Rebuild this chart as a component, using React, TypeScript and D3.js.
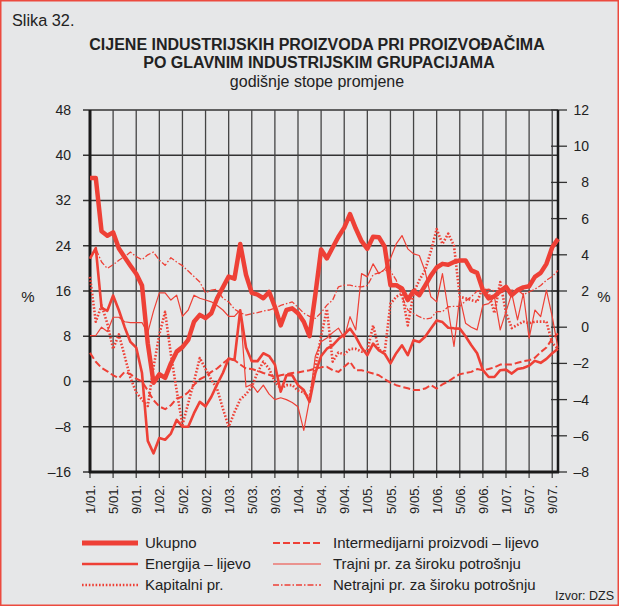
import React from 'react';
import * as d3 from 'd3';

// monthly values, 1/2001 .. 10/2007
const ukupno = [8.25, 8.25, 5.3, 5.05, 5.24, 4.35, 3.87, 3.4, 2.95, 2.3, -0.9, -3.07, -2.6, -2.8, -2.0, -1.35, -1.1, -0.7, 0.3, 0.68, 0.5, 0.77, 1.6, 2.2, 2.8, 2.68, 4.6, 2.9, 1.9, 1.8, 1.6, 1.95, 1.13, 0.1, 0.95, 1.04, 0.77, 0.3, -0.5, 1.8, 4.29, 3.8, 4.4, 5.0, 5.5, 6.25, 5.45, 4.75, 4.33, 5.0, 4.97, 4.45, 2.32, 2.32, 2.14, 1.5, 2.0, 1.77, 2.3, 2.85, 3.3, 3.5, 3.45, 3.6, 3.69, 3.69, 3.14, 3.0, 2.05, 1.59, 1.7, 2.0, 2.23, 1.77, 2.05, 2.2, 2.26, 2.78, 3.0, 3.5, 4.42, 4.88];
const energija = [21.7, 23.6, 13.0, 12.5, 15.2, 12.6, 9.6, 7.0, 6.0, 1.5, -10.5, -12.7, -10.0, -10.3, -9.2, -6.8, -8.0, -8.0, -5.6, -3.6, -4.4, -2.7, -0.5, 1.5, 4.06, 3.8, 12.6, 6.0, 3.6, 3.6, 5.0, 4.5, 3.0, -1.8, 1.1, 1.1, -0.65, -1.5, -3.6, 1.5, 4.5, 5.8, 6.4, 7.5, 8.3, 9.35, 7.9, 6.0, 4.65, 6.7, 5.5, 4.9, 3.2, 5.0, 6.4, 4.65, 7.3, 7.0, 7.9, 9.35, 10.8, 10.5, 9.5, 9.4, 9.35, 8.0, 6.4, 5.0, 2.0, 0.8, 0.8, 2.0, 2.1, 1.4, 2.2, 2.4, 2.8, 3.65, 3.3, 4.0, 5.0, 5.8];
const kapitalni = [2.78, 0.3, 1.2, 0.2, -1.2, -0.4, -1.6, -2.8, -3.6, -4.0, -4.35, -2.2, -0.4, 0.85, -1.5, -3.5, -5.4, -4.2, -3.0, -1.7, -2.3, -2.9, -3.4, -4.5, -5.5, -4.7, -4.0, -3.7, -3.3, -2.5, -1.9, -2.3, -3.0, -3.4, -3.2, -3.2, -3.5, -3.6, -3.9, -2.2, -0.5, 1.0, -1.9, -1.4, -1.5, -1.2, -1.2, -1.35, -1.3, 0.1, -1.24, -1.4, 1.3, 1.68, 1.86, 0.1, 1.9, 2.6, 3.14, 4.2, 5.42, 4.6, 5.17, 4.5, 1.68, 1.6, 1.5, 1.4, 2.2, 1.9, 0.77, 2.5, 0.8, -0.05, 0.13, 0.3, 0.22, 0.3, 0.31, 0.31, -0.88, -1.2];
const intermedijarni = [5.06, 3.5, 2.4, 1.8, 1.1, 0.6, 1.7, 1.3, 0.5, 0.0, -1.6, -3.3, -4.4, -4.9, -4.2, -3.0, -2.7, -1.9, -0.6, 0.4, 0.9, 1.7, 2.3, 3.2, 4.0, 3.8, 3.0, 2.3, 2.2, 1.9, 1.5, 1.2, 0.8, 1.1, 1.3, 1.5, 1.6, 1.8, 2.0, 2.3, 2.5, 2.6, 2.0, 1.7, 2.6, 3.5, 2.0, 2.0, 1.7, 1.4, 1.1, 0.4, -0.2, -0.65, -0.94, -1.2, -1.5, -1.5, -1.24, -0.65, -1.24, -0.5, 0.0, 0.7, 1.3, 1.5, 1.7, 2.2, 2.0, 2.2, 2.5, 3.0, 3.0, 3.0, 3.3, 3.6, 3.76, 4.2, 5.2, 6.0, 7.6, 8.5];
const trajni = [-0.46, -0.46, 0.0, -0.24, 0.55, 0.55, 0.3, 0.25, 0.25, 0.25, -0.3, 0.9, 1.9, 1.9, 1.5, 1.77, 0.6, 0.95, 1.77, 1.6, 1.5, 1.4, 1.2, 0.95, 0.6, 0.6, 0.95, -3.3, -3.16, -3.6, -3.2, -3.7, -4.0, -3.9, -4.0, -4.16, -4.4, -5.7, -4.0, -1.6, -0.8, -0.6, -0.3, -0.05, -0.6, 0.58, -0.15, 2.96, 2.78, 3.5, 2.96, 3.2, 3.8, 4.6, 5.06, 4.33, 4.05, 3.96, 3.1, 1.68, 1.4, 2.96, 0.95, -1.06, 1.68, 0.22, 0.0, -0.15, 1.22, 1.3, 1.68, -0.15, 0.86, 1.86, 0.4, 1.86, -0.6, 0.95, 0.58, 2.05, 0.58, -1.15];
const netrajni = [3.87, 4.35, 3.6, 3.25, 3.45, 3.7, 3.9, 4.15, 3.9, 3.73, 4.0, 4.15, 3.7, 3.42, 3.84, 3.6, 3.4, 3.1, 2.8, 2.5, 1.9, 2.05, 2.1, 1.6, 1.4, 1.0, 0.8, 0.67, 0.75, 0.8, 0.9, 0.95, 1.05, 1.2, 1.3, 1.4, 1.1, 0.77, 0.6, 0.49, 0.8, 1.22, 1.5, 2.23, 2.32, 2.32, 2.25, 2.23, 2.3, 2.9, 3.0, 3.14, 3.1, 2.6, 1.68, 0.95, 0.75, 0.58, 0.45, 0.5, 0.86, 0.86, 1.13, 1.15, 1.15, 1.45, 1.68, 2.0, 2.05, 2.1, 2.0, 1.95, 2.0, 2.05, 2.05, 1.8, 1.95, 2.1, 2.3, 2.6, 2.8, 3.14];

const xLabelMonths = [1, 5, 9];
const xLabelYears = ['01', '02', '03', '04', '05', '06', '07'];
const leftTicks = [-16, -8, 0, 8, 16, 24, 32, 40, 48];
const rightTicks = [-8, -6, -4, -2, 0, 2, 4, 6, 8, 10, 12];

const RED = '#ee4036';
const FONT = '"Liberation Sans", Arial, sans-serif';

type Series = {
  name: string;
  values: number[];
  axis: 'left' | 'right';
  width: number;
  dash?: string;
  col: number;
  row: number;
};

const series: Series[] = [
  { name: 'Intermedijarni proizvodi – lijevo', values: intermedijarni, axis: 'left', width: 2, dash: '7,3', col: 1, row: 0 },
  { name: 'Trajni pr. za široku potrošnju', values: trajni, axis: 'right', width: 1.2, col: 1, row: 1 },
  { name: 'Netrajni pr. za široku potrošnju', values: netrajni, axis: 'right', width: 1.3, dash: '6,2,1.5,2', col: 1, row: 2 },
  { name: 'Kapitalni pr.', values: kapitalni, axis: 'right', width: 2.6, dash: '1.6,1.8', col: 0, row: 2 },
  { name: 'Energija – lijevo', values: energija, axis: 'left', width: 2.6, col: 0, row: 1 },
  { name: 'Ukupno', values: ukupno, axis: 'right', width: 4.5, col: 0, row: 0 },
];

const fmt = (v: number) => (v < 0 ? '–' + Math.abs(v) : String(v));

export default function App() {
  const W = 619;
  const H = 606;
  const left = 90;
  const right = 558;
  const top = 110;
  const bottom = 472;

  const x = d3.scaleLinear().domain([0, 81]).range([left, right]);
  const yL = d3.scaleLinear().domain([-16, 48]).range([bottom, top]);
  const yR = d3.scaleLinear().domain([-8, 12]).range([bottom, top]);

  // label positions every 4 months
  const xTicks: { m: number; label: string }[] = [];
  xLabelYears.forEach((yy, yi) => {
    xLabelMonths.forEach((mm) => {
      const m = yi * 12 + (mm - 1);
      if (m <= 81) xTicks.push({ m, label: `${mm}/${yy}.` });
    });
  });

  const lineFor = (s: Series) => {
    const y = s.axis === 'left' ? yL : yR;
    return d3
      .line<number>()
      .x((_, i) => x(i))
      .y((d) => y(d))(s.values) || '';
  };

  const legendX = [82, 273];
  const legendY = [543, 564, 585];
  const sampleLen = [56, 48];

  return (
    <svg
      width={W}
      height={H}
      style={{ position: 'absolute', left: 0, top: 0, display: 'block' }}
      fontFamily={FONT}
    >
      <rect x={0.75} y={0.75} width={W - 1.5} height={H - 1.5} fill="#e6e7e8" stroke="#ec4a3e" strokeWidth={1.5} />

      <text x={12} y={26} fontSize={16.3} fill="#222">Slika 32.</text>
      <text x={317} y={50} fontSize={16} fontWeight="bold" textAnchor="middle" fill="#222">
        CIJENE INDUSTRIJSKIH PROIZVODA PRI PROIZVOĐAČIMA
      </text>
      <text x={319} y={68} fontSize={16} fontWeight="bold" textAnchor="middle" fill="#222">
        PO GLAVNIM INDUSTRIJSKIM GRUPACIJAMA
      </text>
      <text x={317} y={87} fontSize={16} textAnchor="middle" fill="#222">godišnje stope promjene</text>

      {/* horizontal grid + left ticks */}
      {leftTicks.map((t) => (
        <g key={'l' + t}>
          <line x1={83} x2={right} y1={yL(t)} y2={yL(t)} stroke="#333" strokeWidth={1.3} />
          <text x={71} y={yL(t)} dy="0.35em" fontSize={14} textAnchor="end" fill="#222">{fmt(t)}</text>
        </g>
      ))}

      {/* vertical grid */}
      {xTicks.map((t) => (
        <g key={'x' + t.m}>
          <line x1={x(t.m)} x2={x(t.m)} y1={top} y2={bottom + 6} stroke="#444" strokeWidth={1.3} />
          <text
            transform={`translate(${x(t.m) + 0.5},485) rotate(-90)`}
            dy="0.35em"
            fontSize={13}
            textAnchor="end"
            fill="#222"
          >
            {t.label}
          </text>
        </g>
      ))}

      {/* right ticks */}
      {rightTicks.map((t) => (
        <g key={'r' + t}>
          <line x1={551} x2={567} y1={yR(t)} y2={yR(t)} stroke="#333" strokeWidth={1.3} />
          <text x={589} y={yR(t)} dy="0.35em" fontSize={14} textAnchor="end" fill="#222">{fmt(t)}</text>
        </g>
      ))}

      {/* axis frame */}
      <line x1={left} x2={left} y1={top} y2={bottom + 1} stroke="#1a1a1a" strokeWidth={3} />
      <line x1={right} x2={right} y1={top} y2={bottom + 1} stroke="#1a1a1a" strokeWidth={2.5} />
      <line x1={left - 1} x2={right + 1} y1={bottom} y2={bottom} stroke="#1a1a1a" strokeWidth={3} />

      <text x={28} y={297} dy="0.35em" fontSize={15} textAnchor="middle" fill="#222">%</text>
      <text x={604} y={297} dy="0.35em" fontSize={15} textAnchor="middle" fill="#222">%</text>

      {/* series */}
      {series.map((s) => (
        <path
          key={s.name}
          d={lineFor(s)}
          fill="none"
          stroke={RED}
          strokeWidth={s.width}
          strokeDasharray={s.dash}
          strokeLinejoin="round"
        />
      ))}

      {/* legend */}
      {series.map((s) => (
        <g key={'lg' + s.name} transform={`translate(${legendX[s.col]},${legendY[s.row]})`}>
          <line
            x1={0}
            x2={sampleLen[s.col]}
            y1={0}
            y2={0}
            stroke={RED}
            strokeWidth={s.name === 'Ukupno' ? 5 : s.width}
            strokeDasharray={s.dash}
          />
          <text x={sampleLen[s.col] + (s.col === 0 ? 7 : 12)} y={0} dy="0.35em" fontSize={15} fill="#222">
            {s.name}
          </text>
        </g>
      ))}

      <text x={614} y={600} fontSize={12.5} textAnchor="end" fill="#222">Izvor: DZS</text>
    </svg>
  );
}
